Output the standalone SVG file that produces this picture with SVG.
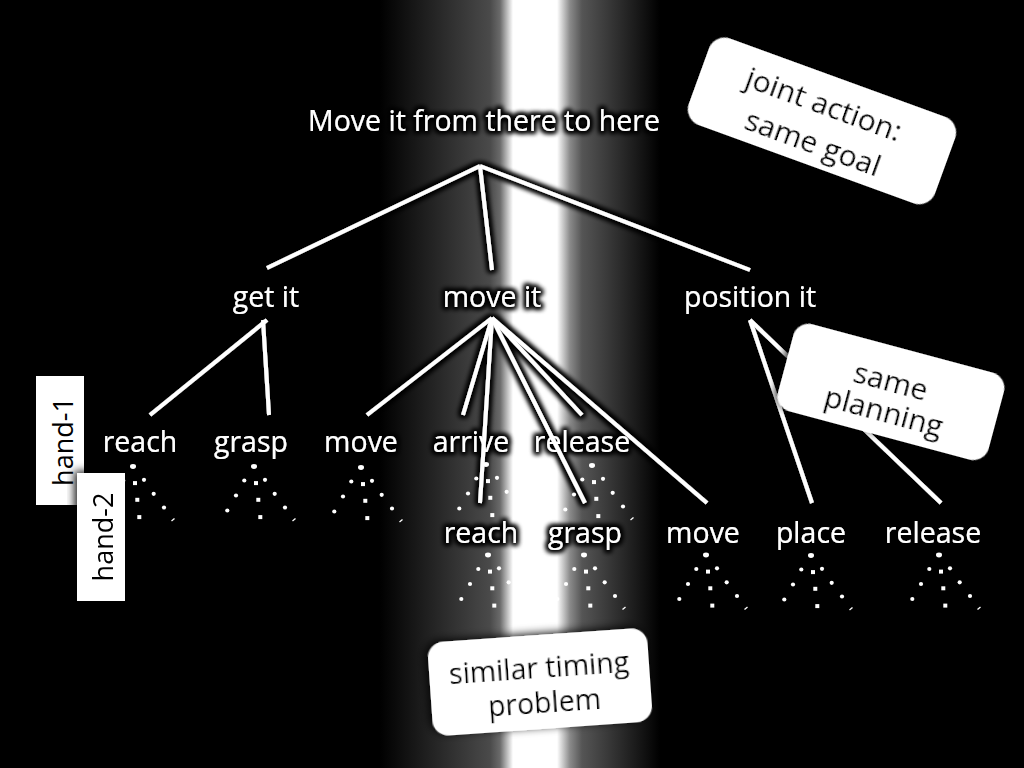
<svg xmlns="http://www.w3.org/2000/svg" xmlns:xlink="http://www.w3.org/1999/xlink" width="1024" height="768" viewBox="0 0 1024 768">
<defs>
<linearGradient id="bg" gradientUnits="userSpaceOnUse" x1="0" y1="0" x2="1024" y2="0">
<stop offset="0.371" stop-color="#000"/>
<stop offset="0.4785" stop-color="#4a4a4a"/>
<stop offset="0.4883" stop-color="#6a6a6a"/>
<stop offset="0.501" stop-color="#fff"/>
<stop offset="0.544" stop-color="#fff"/>
<stop offset="0.5566" stop-color="#8a8a8a"/>
<stop offset="0.5684" stop-color="#555"/>
<stop offset="0.6445" stop-color="#000"/>
</linearGradient>
<filter id="glow" x="-10%" y="-10%" width="120%" height="120%">
<feMorphology in="SourceAlpha" operator="dilate" radius="1.5" result="d"/>
<feGaussianBlur in="d" stdDeviation="2.5" result="b"/>
<feFlood flood-color="#000"/>
<feComposite in2="b" operator="in" result="s"/>
<feMerge><feMergeNode in="s"/><feMergeNode in="s"/><feMergeNode in="SourceGraphic"/></feMerge>
</filter>
<filter id="shadow" x="-20%" y="-30%" width="140%" height="160%">
<feGaussianBlur in="SourceAlpha" stdDeviation="4" result="b"/>
<feOffset in="b" dx="-3" dy="-2" result="o"/>
<feFlood flood-color="#000" flood-opacity="0.85"/>
<feComposite in2="o" operator="in" result="s"/>
<feMerge><feMergeNode in="s"/><feMergeNode in="SourceGraphic"/></feMerge>
</filter>
<g id="fan" fill="#fff">
<ellipse cx="0" cy="0" rx="3" ry="2.4"/>
<circle cx="-9.7" cy="14" r="2.1"/>
<circle cx="-18" cy="29" r="2.1"/>
<circle cx="-26.7" cy="44" r="2.1"/>
<rect x="0" y="14.6" width="4" height="4"/>
<rect x="2.3" y="31.3" width="4" height="4"/>
<rect x="4.3" y="48.6" width="4" height="4"/>
<circle cx="11" cy="13.3" r="2.1"/>
<circle cx="20.7" cy="27.3" r="2.1"/>
<circle cx="31" cy="41" r="2.1"/>
<path d="M38.5 54.5 L41.5 52" stroke="#fff" stroke-width="1.3" fill="none"/>
</g>
</defs>
<style>
.lbl{font-family:"Open Sans","Liberation Sans",sans-serif;font-size:28.5px;fill:#fff;text-anchor:middle}
.cl{font-family:"Open Sans","Liberation Sans",sans-serif;font-size:30px;fill:#000;text-anchor:middle}
.hand{font-family:"Open Sans","Liberation Sans",sans-serif;font-size:27px;fill:#000;text-anchor:middle}
.edge{stroke:#fff;stroke-width:4;fill:none;stroke-linecap:butt}
.box{fill:#fff}
</style>
<rect width="1024" height="768" fill="#000"/>
<rect width="1024" height="768" fill="url(#bg)"/>

<g filter="url(#glow)">
<g id="connectors">
<line class="edge" x1="480" y1="166" x2="267" y2="268"/>
<line class="edge" x1="480" y1="166" x2="492" y2="270"/>
<line class="edge" x1="480" y1="166" x2="750" y2="270"/>
<line class="edge" x1="267" y1="320" x2="150" y2="415"/>
<line class="edge" x1="263" y1="320" x2="269" y2="415"/>
<line class="edge" x1="492" y1="318" x2="367" y2="415"/>
<line class="edge" x1="492" y1="318" x2="463" y2="415"/>
<line class="edge" x1="492" y1="318" x2="480" y2="503"/>
<line class="edge" x1="492" y1="318" x2="585" y2="503"/>
<line class="edge" x1="492" y1="318" x2="582" y2="415"/>
<line class="edge" x1="492" y1="318" x2="707" y2="503"/>
<line class="edge" x1="750" y1="320" x2="812" y2="503"/>
<line class="edge" x1="750" y1="320" x2="941" y2="503"/>
</g>
<g id="n-root"><text class="lbl" x="484" y="131">Move it from there to here</text></g>
<g id="n-getit"><text class="lbl" x="266" y="307">get it</text></g>
<g id="n-moveit"><text class="lbl" x="492" y="307">move it</text></g>
<g id="n-positionit"><text class="lbl" x="750" y="307">position it</text></g>
<g id="n-h1-reach"><text class="lbl" x="140" y="452">reach</text></g>
<g id="n-h1-grasp"><text class="lbl" x="251" y="452">grasp</text></g>
<g id="n-h1-move"><text class="lbl" x="361" y="452">move</text></g>
<g id="n-h1-arrive"><text class="lbl" x="471" y="452">arrive</text></g>
<g id="n-h1-release"><text class="lbl" x="582" y="452">release</text></g>
<g id="n-h2-reach"><text class="lbl" x="481" y="543">reach</text></g>
<g id="n-h2-grasp"><text class="lbl" x="585" y="543">grasp</text></g>
<g id="n-h2-move"><text class="lbl" x="703" y="543">move</text></g>
<g id="n-h2-place"><text class="lbl" x="811" y="543">place</text></g>
<g id="n-h2-release"><text class="lbl" x="933" y="543">release</text></g>
</g>

<g id="fans">
<use xlink:href="#fan" x="133" y="466.5"/>
<use xlink:href="#fan" x="254" y="466.5"/>
<use xlink:href="#fan" x="361" y="467.5"/>
<use xlink:href="#fan" x="486" y="464.5"/>
<use xlink:href="#fan" x="592" y="465.5"/>
<use xlink:href="#fan" x="488" y="555"/>
<use xlink:href="#fan" x="584" y="555"/>
<use xlink:href="#fan" x="706" y="555"/>
<use xlink:href="#fan" x="811" y="555.5"/>
<use xlink:href="#fan" x="939" y="555"/>
</g>

<g id="hand-1">
<rect class="box" x="36" y="376" width="48" height="129"/>
<text class="hand" transform="translate(72.5,441.5) rotate(-90)">hand-1</text>
</g>
<g id="hand-2" filter="url(#shadow)">
<rect class="box" x="77" y="473" width="48" height="128"/>
<text class="hand" transform="translate(113,537) rotate(-90)">hand-2</text>
</g>

<g id="callout-goal" filter="url(#shadow)" transform="translate(822,121) rotate(20)">
<rect class="box" x="-131" y="-46" width="262" height="92" rx="17"/>
<text class="cl" x="-4" y="-6">joint action:</text>
<text class="cl" x="-1" y="34">same goal</text>
</g>
<g id="callout-planning" filter="url(#shadow)" transform="translate(891,392) rotate(15)">
<rect class="box" x="-109" y="-45" width="218" height="90" rx="16"/>
<text class="cl" x="-3" y="0">same</text>
<text class="cl" x="-2" y="31">planning</text>
</g>
<g id="callout-timing" filter="url(#shadow)" transform="translate(540,682) rotate(-4)">
<rect class="box" x="-110" y="-47" width="220" height="94" rx="16"/>
<text class="cl" style="font-size:28.5px" x="0" y="-4">similar timing</text>
<text class="cl" style="font-size:28.5px" x="3" y="31">problem</text>
</g>
</svg>
